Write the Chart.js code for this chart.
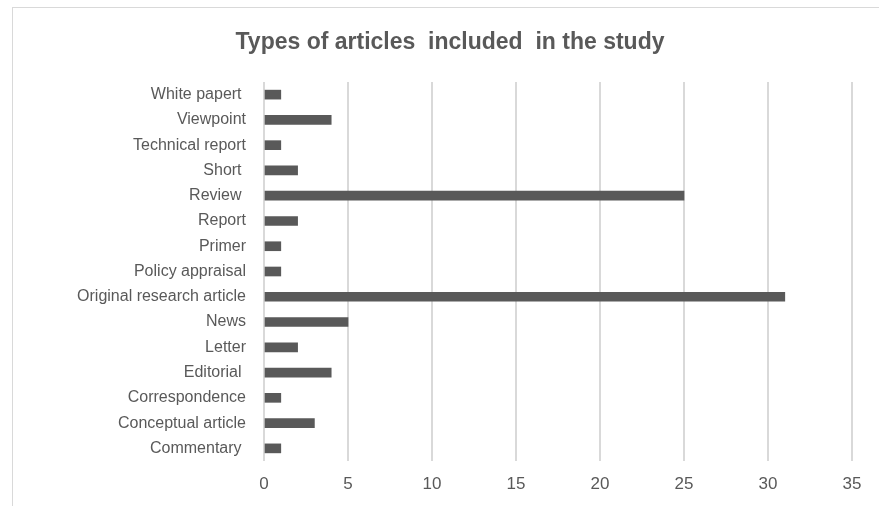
<!DOCTYPE html>
<html>
<head>
<meta charset="utf-8">
<script src="https://cdn.jsdelivr.net/npm/chart.js@4"></script>
<style>
  html, body { margin: 0; padding: 0; background: #fff; }
  #wrap { position: relative; width: 879px; height: 506px; overflow: hidden; }
  #frame { position: absolute; left: 12px; top: 7px; width: 900px; height: 520px;
           border-top: 1px solid #d9d9d9; border-left: 1px solid #d9d9d9; }
  canvas { position: absolute; left: 0; top: 0; }
</style>
</head>
<body>
<div id="wrap">
  <div id="frame"></div>
  <canvas id="chart" width="879" height="506"></canvas>
</div>
<script>
// Categories top to bottom, as in the picture
const categories = [
  'White papert ', 'Viewpoint', 'Technical report', 'Short ', 'Review ',
  'Report', 'Primer', 'Policy appraisal', 'Original research article', 'News',
  'Letter', 'Editorial ', 'Correspondence', 'Conceptual article', 'Commentary '
];
const counts = [1, 4, 1, 2, 25, 2, 1, 1, 31, 5, 2, 4, 1, 3, 1];
const xTicks = [0, 5, 10, 15, 20, 25, 30, 35];
const chartTitle = 'Types of articles  included  in the study';

const textColor = '#595959';
const gridColor = '#d9d9d9';
const fontFamily = '"Liberation Sans", Arial, sans-serif';

// title is centred on the whole frame, not on the plot box
const titlePlugin = {
  id: 'frameTitle',
  afterDraw(chart) {
    const c = chart.ctx;
    c.save();
    c.font = 'bold 23px ' + fontFamily;
    c.fillStyle = textColor;
    c.textAlign = 'center';
    c.textBaseline = 'middle';
    c.fillText(chartTitle, 450, 43);
    c.restore();
  },
};

const ctx = document.getElementById('chart').getContext('2d');
new Chart(ctx, {
  type: 'bar',
  data: {
    labels: categories,
    datasets: [{
      data: counts,
      backgroundColor: '#595959',
      borderWidth: 0,
      barThickness: 9,
    }],
  },
  options: {
    indexAxis: 'y',
    responsive: false,
    animation: false,
    layout: { padding: { left: 0, right: 27, top: 82, bottom: 0 } },
    plugins: {
      legend: { display: false },
      tooltip: { enabled: false },
      title: { display: false },
    },
    scales: {
      x: {
        min: xTicks[0],
        max: xTicks[xTicks.length - 1],
        afterBuildTicks: (scale) => { scale.ticks = xTicks.map(v => ({ value: v })); },
        afterFit: (scale) => { scale.height = 45; },
        grid: { color: gridColor, lineWidth: 2, drawTicks: false },
        border: { display: false },
        ticks: { color: textColor, padding: 13, font: { family: fontFamily, size: 17 } },
      },
      y: {
        afterFit: (scale) => { scale.width = 264; },
        grid: { display: false, drawTicks: false },
        border: { display: false },
        ticks: { color: textColor, padding: 18, autoSkip: false, font: { family: fontFamily, size: 16 } },
      },
    },
  },
  plugins: [titlePlugin],
});
</script>
</body>
</html>
